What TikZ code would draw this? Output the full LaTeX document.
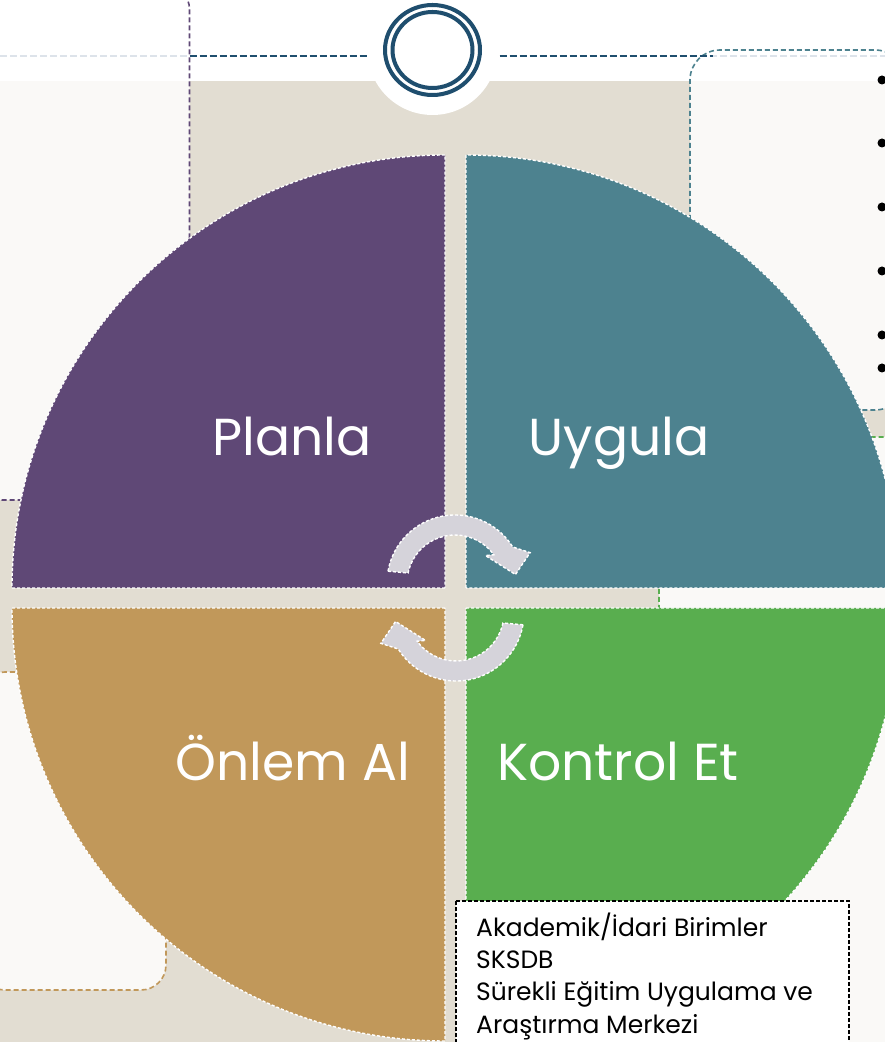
\documentclass[tikz,border=0pt]{standalone}
\usepackage{fontspec}
\setmainfont{Poppins}
\definecolor{bej}{HTML}{E2DDD2}
\definecolor{kirik}{HTML}{FAF9F7}
\definecolor{mor}{HTML}{5F4876}
\definecolor{petrol}{HTML}{4D828F}
\definecolor{hardal}{HTML}{C1985A}
\definecolor{yesil}{HTML}{59AE4F}
\definecolor{lacivert}{HTML}{1F4E6E}
\definecolor{acikgri}{HTML}{DDE3EA}
\definecolor{okgri}{HTML}{D5D3DA}
\tikzset{
  kutu/.style={line width=1.6pt, dash pattern=on 5pt off 3pt, rounded corners=#1},
  dilim/.style={draw=white, line width=1.4pt, dash pattern=on 3pt off 2pt},
  ok/.style={fill=okgri, draw=white, line width=1.4pt, dash pattern=on 3pt off 2pt},
  etiket/.style={text=white, anchor=base, inner sep=0pt, font=\fontsize{52}{62}\selectfont},
  satir/.style={anchor=base west, inner sep=0pt, font=\fontsize{25}{32}\selectfont},
}
\begin{document}
\begin{tikzpicture}[x=1pt,y=1pt]
\useasboundingbox (0,0) rectangle (885,1042);
\clip (0,0) rectangle (885,1042);
\fill[bej] (0,0) rectangle (885,1042);
% kutular
\fill[kirik, rounded corners=22] (-20,542) rectangle (189.5,1055);
\fill[kirik, rounded corners=25] (-20,52) rectangle (166,370);
\fill[kirik, rounded corners=30] (690,632) rectangle (905,992);
\fill[kirik, rounded corners=20] (659,-20) rectangle (905,605);
\fill[white] (0,961) rectangle (885,1042);
\draw[kutu=22, mor] (-20,542) rectangle (189.5,1055);
\draw[kutu=25, hardal] (-20,52) rectangle (166,370);
\draw[kutu=30, petrol] (690,632) rectangle (905,992);
\draw[kutu=20, yesil] (659,-20) rectangle (905,605);
% baslik cizgisi
\draw[acikgri, line width=1.6pt, dash pattern=on 7pt off 3pt] (0,986) -- (885,986);
\draw[lacivert, line width=1.6pt, dash pattern=on 7pt off 3pt] (189.5,986) -- (713,986);
\fill[white] (432.5,992) circle (65);
\draw[lacivert, line width=4pt] (432.5,992) ellipse (47.5 and 45);
\draw[lacivert, line width=4pt] (432.5,992) ellipse (40 and 38);
% dilimler
\draw[dilim, fill=mor] (445,454) -- (12,454) arc[start angle=180, end angle=90, radius=433] -- cycle;
\draw[dilim, fill=petrol] (466,454) -- (466,887) arc[start angle=90, end angle=0, radius=433] -- cycle;
\draw[dilim, fill=hardal] (445,434) -- (12,434) arc[start angle=180, end angle=270, radius=433] -- cycle;
\draw[dilim, fill=yesil] (466,434) -- (899,434) arc[start angle=0, end angle=-90, radius=433] -- cycle;
\node[etiket] (planla) at (292,586) {Planla};
\node[etiket] (uygula) at (619,586) {Uygula};
\node[etiket] (onlem) at (293,261) {Önlem Al};
\node[etiket] (kontrol) at (618,261) {Kontrol Et};
% oklar
\begin{scope}[shift={(455,459)}]
  \draw[ok] (170:68) arc[start angle=170, end angle=32, radius=68] -- (22:81) -- (8:61) -- (42:41) -- (36:48) arc[start angle=36, end angle=168, radius=48] -- cycle;
\end{scope}
\begin{scope}[shift={(456,429)}, rotate=180]
  \draw[ok] (170:68) arc[start angle=170, end angle=32, radius=68] -- (22:81) -- (8:61) -- (42:41) -- (36:48) arc[start angle=36, end angle=168, radius=48] -- cycle;
\end{scope}
% maddeler
\foreach \y in {80,143,207,271,335,368}
  \fill (882,{1042-\y}) circle (4.5);
% alt kutu
\draw[line width=1.6pt, dash pattern=on 4pt off 2pt, fill=white] (456,141) rectangle (849,-20);
\node[satir] (birim1) at (476,105) {Akademik/İdari Birimler};
\node[satir] (birim2) at (476,73) {SKSDB};
\node[satir] (birim3) at (476,41) {Sürekli Eğitim Uygulama ve};
\node[satir] (birim4) at (476,9) {Araştırma Merkezi};
\end{tikzpicture}
\end{document}
